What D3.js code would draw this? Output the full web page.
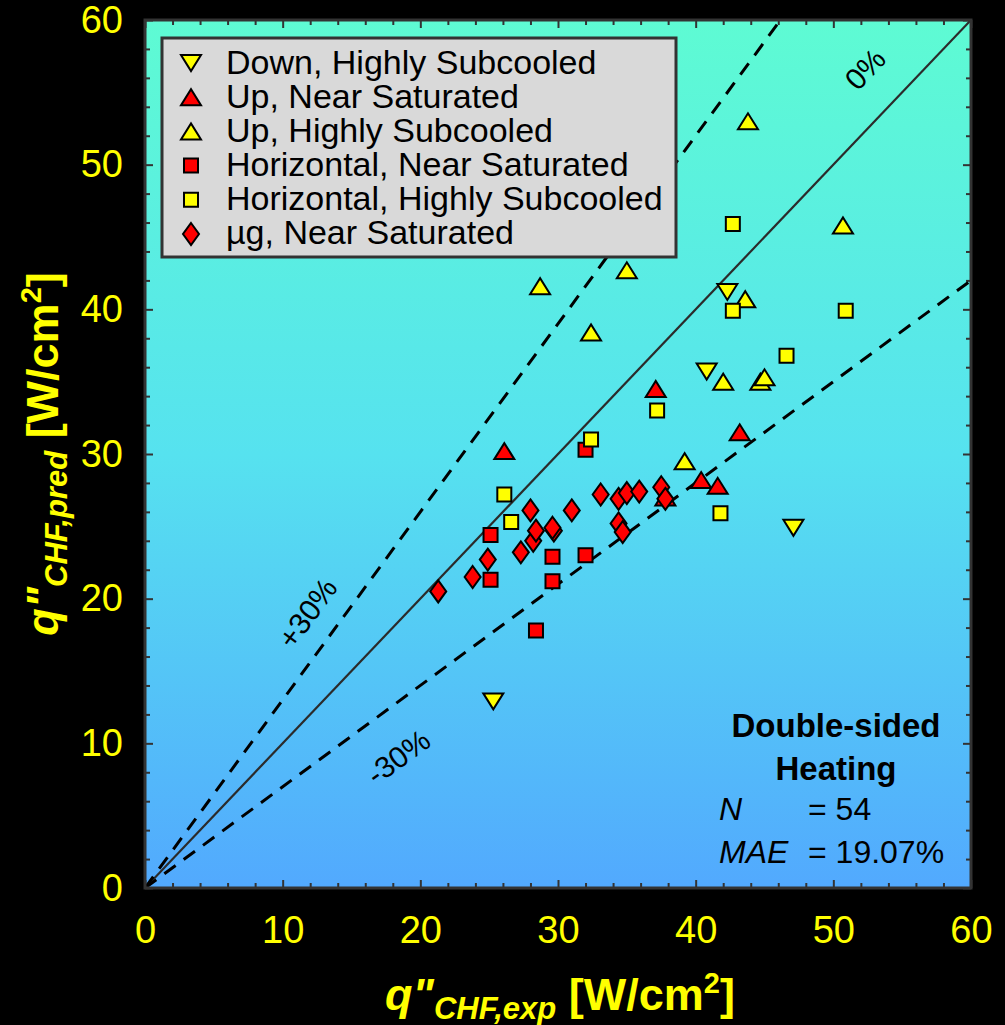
<!DOCTYPE html>
<html><head><meta charset="utf-8">
<script src="https://cdn.jsdelivr.net/npm/d3@7"></script>
<style>
html,body{margin:0;padding:0;background:#000;}
svg{display:block;}
text{font-family:"Liberation Sans",Arial,Helvetica,sans-serif;}
</style></head>
<body>
<svg id="chart" width="1005" height="1025"></svg>
<script>
// ---------- data ----------
const seriesNames = ["Down, Highly Subcooled","Up, Near Saturated","Up, Highly Subcooled","Horizontal, Near Saturated","Horizontal, Highly Subcooled","\u00b5g, Near Saturated"];
const downHS = [[25.3,12.9],[47.1,24.9],[40.8,35.7],[42.3,41.2]];
const upNS = [[26.1,30.2],[37.1,34.5],[43.2,31.5],[40.4,28.2],[41.6,27.8],[37.8,27.0]];
const upHS = [[28.7,41.6],[35.0,42.7],[32.4,38.4],[43.8,53.0],[50.7,45.8],[43.6,40.7],[42.0,35.0],[44.7,35.0],[45.0,35.3],[39.2,29.5]];
const horNS = [[32.0,30.3],[25.1,24.4],[25.1,21.3],[29.6,22.9],[29.6,21.2],[32.0,23.0],[28.4,17.8]];
const horHS = [[32.4,31.0],[26.1,27.2],[26.6,25.3],[41.8,25.9],[37.2,33.0],[42.7,39.9],[50.9,39.9],[46.6,36.8],[42.7,45.9]];
const ugNS = [[21.3,20.5],[23.8,21.5],[24.9,22.7],[27.3,23.2],[28.2,24.0],[28.4,24.7],[28.0,26.1],[29.7,24.7],[29.6,24.9],[31.0,26.1],[33.1,27.2],[34.4,26.9],[35.0,27.3],[35.9,27.4],[37.5,27.7],[37.8,26.9],[34.4,25.2],[34.7,24.6]];
const majorTicks = [0,10,20,30,40,50,60];
const minorTicks = [2,4,6,8,12,14,16,18,22,24,26,28,32,34,36,38,42,44,46,48,52,54,56,58];
const refLines = [{k:1.0,label:"0%"},{k:1.3,label:"+30%"},{k:0.7,label:"-30%"}];
const statsLines = [["N","= 54"],["MAE","= 19.07%"]];

// ---------- layout ----------
const svg = d3.select("#chart");
const L=145,R=971,T=20,B=888;
const x = d3.scaleLinear().domain([0,60]).range([L,R]);
const y = d3.scaleLinear().domain([0,60]).range([B,T]);

// marker shapes
const shapes = {
  down: "M-10,-8L10,-8L0,8Z",
  up: "M-10,8L10,8L0,-8Z",
  square: "M-7,-7H7V7H-7Z",
  diamond: "M0,-11L8,0L0,11L-8,0Z"
};
const series = [
  {name:seriesNames[0], data:downHS, shape:"down", fill:"#ffff00"},
  {name:seriesNames[1], data:upNS, shape:"up", fill:"#ff0000"},
  {name:seriesNames[2], data:upHS, shape:"up", fill:"#ffff00"},
  {name:seriesNames[3], data:horNS, shape:"square", fill:"#ff0000"},
  {name:seriesNames[4], data:horHS, shape:"square", fill:"#ffff00"},
  {name:seriesNames[5], data:ugNS, shape:"diamond", fill:"#ff0000"}
];

// gradient background
const defs = svg.append("defs");
const grad = defs.append("linearGradient").attr("id","bg").attr("x1",0).attr("y1",0).attr("x2",0).attr("y2",1);
grad.append("stop").attr("offset","0%").attr("stop-color","#5efbd3");
grad.append("stop").attr("offset","50%").attr("stop-color","#56e2ef");
grad.append("stop").attr("offset","100%").attr("stop-color","#52a9fe");
defs.append("clipPath").attr("id","clip").append("rect").attr("x",L).attr("y",T).attr("width",R-L).attr("height",B-T);

svg.append("rect").attr("x",L).attr("y",T).attr("width",R-L).attr("height",B-T).attr("fill","url(#bg)");

// ticks (inward, all sides)
function styleAxis(g){
  g.select(".domain").remove();
  g.selectAll(".tick line").attr("stroke","#333").attr("stroke-width",2);
}
svg.append("g").attr("transform",`translate(0,${B})`)
  .call(d3.axisBottom(x).tickValues(majorTicks).tickSizeInner(-8).tickSizeOuter(0).tickPadding(28).tickFormat(d3.format("d")))
  .call(styleAxis)
  .call(g=>g.selectAll(".tick text").attr("fill","#ffff00").attr("font-size",38).attr("font-family","'Liberation Sans',Arial,sans-serif"));
svg.append("g").attr("transform",`translate(0,${B})`)
  .call(d3.axisBottom(x).tickValues(minorTicks).tickSizeInner(-5).tickSizeOuter(0).tickFormat("")).call(styleAxis);
svg.append("g").attr("transform",`translate(0,${T})`)
  .call(d3.axisTop(x).tickValues(majorTicks).tickSizeInner(-8).tickSizeOuter(0).tickFormat("")).call(styleAxis);
svg.append("g").attr("transform",`translate(0,${T})`)
  .call(d3.axisTop(x).tickValues(minorTicks).tickSizeInner(-5).tickSizeOuter(0).tickFormat("")).call(styleAxis);
svg.append("g").attr("transform",`translate(${L},0)`)
  .call(d3.axisLeft(y).tickValues(majorTicks).tickSizeInner(-8).tickSizeOuter(0).tickPadding(22).tickFormat(d3.format("d")))
  .call(styleAxis)
  .call(g=>g.selectAll(".tick text").attr("fill","#ffff00").attr("font-size",38).attr("font-family","'Liberation Sans',Arial,sans-serif"));
svg.append("g").attr("transform",`translate(${L},0)`)
  .call(d3.axisLeft(y).tickValues(minorTicks).tickSizeInner(-5).tickSizeOuter(0).tickFormat("")).call(styleAxis);
svg.append("g").attr("transform",`translate(${R},0)`)
  .call(d3.axisRight(y).tickValues(majorTicks).tickSizeInner(-8).tickSizeOuter(0).tickFormat("")).call(styleAxis);
svg.append("g").attr("transform",`translate(${R},0)`)
  .call(d3.axisRight(y).tickValues(minorTicks).tickSizeInner(-5).tickSizeOuter(0).tickFormat("")).call(styleAxis);

// reference lines
const plot = svg.append("g").attr("clip-path","url(#clip)");
refLines.forEach(r=>{
  const xe = Math.min(60, 60/r.k);
  plot.append("line").attr("x1",x(0)).attr("y1",y(0)).attr("x2",x(xe)).attr("y2",y(xe*r.k))
    .attr("stroke", r.k===1 ? "#2b2b2b" : "#000")
    .attr("stroke-width", r.k===1 ? 2.2 : 3)
    .attr("stroke-dasharray", r.k===1 ? null : "14,10");
});
// reference line labels
const labPos = {"0%":[52.3,56.6],"+30%":[11.8,19.0],"-30%":[18.4,9.05]};
refLines.forEach(r=>{
  const p = labPos[r.label];
  const ang = -Math.atan(r.k*(y(0)-y(1))/(x(1)-x(0)))*180/Math.PI;
  svg.append("text").attr("transform",`translate(${x(p[0])},${y(p[1])}) rotate(${ang})`)
    .attr("text-anchor","middle").attr("dy","0.35em").attr("font-size",30).attr("fill","#000").text(r.label);
});

// points
series.forEach(s=>{
  plot.append("g").selectAll("path").data(s.data).join("path")
    .attr("d",shapes[s.shape])
    .attr("transform",d=>`translate(${x(d[0])},${y(d[1])})`)
    .attr("fill",s.fill).attr("stroke","#000").attr("stroke-width",2).attr("stroke-linejoin","miter");
});

// frame
svg.append("rect").attr("x",L).attr("y",T).attr("width",R-L).attr("height",B-T)
  .attr("fill","none").attr("stroke","#333").attr("stroke-width",3);

// legend
const lg = svg.append("g");
lg.append("rect").attr("x",162).attr("y",38).attr("width",514).attr("height",219)
  .attr("fill","#d9d9d9").attr("stroke","#333").attr("stroke-width",3);
series.forEach((s,i)=>{
  const yy = 63 + i*34.2;
  lg.append("path").attr("d",shapes[s.shape]).attr("transform",`translate(191,${yy})`)
    .attr("fill",s.fill).attr("stroke","#000").attr("stroke-width",2);
  lg.append("text").attr("x",226).attr("y",74 + i*34).attr("font-size",34).attr("fill","#000").text(s.name);
});

// stats annotation
svg.append("text").attr("x",836).attr("y",737).attr("text-anchor","middle").attr("font-size",33).attr("font-weight","bold").text("Double-sided");
svg.append("text").attr("x",836).attr("y",780).attr("text-anchor","middle").attr("font-size",33).attr("font-weight","bold").text("Heating");
statsLines.forEach((s,i)=>{
  svg.append("text").attr("x",719).attr("y",820+i*43).attr("font-size",32).attr("font-style","italic").text(s[0]);
  svg.append("text").attr("x",808).attr("y",820+i*43).attr("font-size",32).text(s[1]);
});

// axis titles
function title(g, sub){
  const t = g.append("text").attr("text-anchor","middle").attr("fill","#ffff00").attr("font-weight","bold");
  t.append("tspan").attr("font-size",45).attr("font-style","italic").text("q\"");
  t.append("tspan").attr("font-size",31).attr("font-style","italic").attr("dy",9).text(sub);
  t.append("tspan").attr("font-size",45).attr("dy",-9).text(" [W/cm");
  t.append("tspan").attr("font-size",29).attr("dy",-17).text("2");
  t.append("tspan").attr("font-size",45).attr("dy",17).text("]");
}
title(svg.append("g").attr("transform",`translate(${(L+R)/2+2},1010)`), "CHF,exp");
title(svg.append("g").attr("transform",`translate(58,${(T+B)/2}) rotate(-90)`), "CHF,pred");
</script>
</body></html>
